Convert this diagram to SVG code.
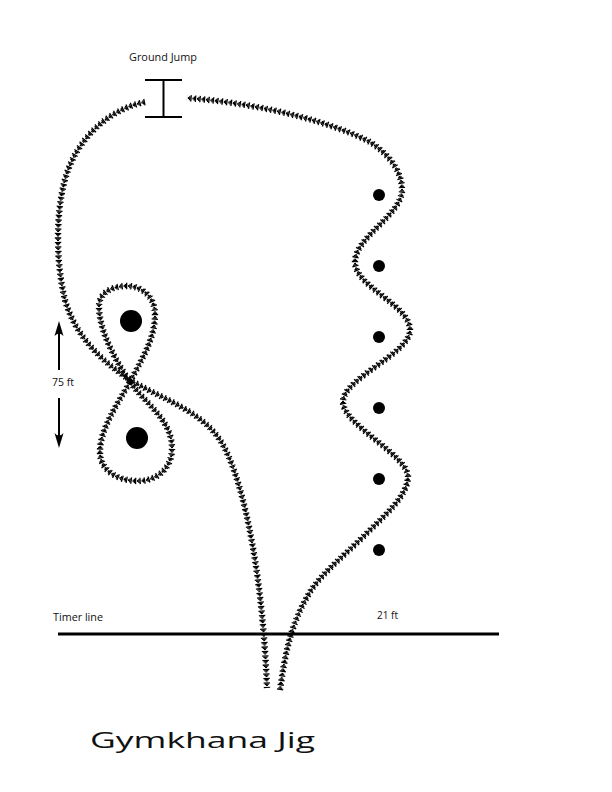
<svg xmlns="http://www.w3.org/2000/svg" xmlns:xlink="http://www.w3.org/1999/xlink" width="612" height="792" viewBox="0 0 612 792">
<style>
text{font-family:"Open Sans","Liberation Sans",Arial,sans-serif;fill:#111}
.lbl{font-size:10.5px}
.title{font-size:22px}
.bar{stroke:#000;stroke-width:2;fill:none}
.chain1,.chain2,.chain3{fill:none;stroke:#000;stroke-dasharray:1.3 3.2}
.chain1{stroke-width:6.4}
.chain2{stroke-width:4.2;stroke-dashoffset:-1.2}
.chain3{stroke-width:2;stroke-dashoffset:-2.4}
.dot{fill:#000}
</style>
<defs>
<path id="routeA" d="M280,690 C285,655 290,625 310,592 C322,573 345,555 365,535 C385,515 407,497 408,477 C408,455 343,425 343,402 C343,378 410,354 410,330 C410,305 355,287 355,262 C355,237 402,215 402,190 C402,172 390,155 370,142 C340,126 270,104 187,98"/>
<path id="routeB" d="M145,102 C115,108 85,130 70,165 C55,200 55,260 65,300 C75,335 100,360 130,380 C160,398 200,410 220,440 C240,470 262,560 267,688"/>
<path id="routeC" d="M130,382 C140,362 155,340 155,315 C155,295 140,286 127,286 C112,286 98,293 99,308 C100,330 112,355 130,382 C145,403 172,420 172,448 C172,470 155,481 138,481 C120,481 100,472 100,452 C100,430 115,408 130,382"/>
</defs>
<rect width="612" height="792" fill="#fff"/>

<g id="connectors">
<use xlink:href="#routeA" class="chain1"/>
<use xlink:href="#routeA" class="chain2"/>
<use xlink:href="#routeA" class="chain3"/>
<use xlink:href="#routeB" class="chain1"/>
<use xlink:href="#routeB" class="chain2"/>
<use xlink:href="#routeB" class="chain3"/>
<use xlink:href="#routeC" class="chain1"/>
<use xlink:href="#routeC" class="chain2"/>
<use xlink:href="#routeC" class="chain3"/>
</g>

<g id="ground-jump">
<text class="lbl" x="129" y="61" textLength="68" lengthAdjust="spacingAndGlyphs">Ground Jump</text>
<line class="bar" x1="145" y1="80" x2="182" y2="80"/>
<line class="bar" x1="163.5" y1="80" x2="163.5" y2="117"/>
<line class="bar" x1="145" y1="117" x2="182" y2="117"/>
</g>

<g id="poles">
<circle class="dot" cx="379" cy="195" r="6"/>
<circle class="dot" cx="379" cy="266" r="6"/>
<circle class="dot" cx="379" cy="337" r="6"/>
<circle class="dot" cx="379" cy="408" r="6"/>
<circle class="dot" cx="379" cy="479" r="6"/>
<circle class="dot" cx="379" cy="550" r="6"/>
</g>

<g id="barrels">
<circle class="dot" cx="131" cy="321" r="11"/>
<circle class="dot" cx="137" cy="438" r="11"/>
</g>

<g id="distance-75ft">
<line class="bar" x1="59" y1="330" x2="59" y2="370"/>
<path d="M59,321 L63.5,336 Q59,331 54.5,336 Z" fill="#000"/>
<text class="lbl" x="52" y="386" textLength="22" lengthAdjust="spacingAndGlyphs">75 ft</text>
<line class="bar" x1="59" y1="398" x2="59" y2="439"/>
<path d="M59,448 L63.5,433 Q59,438 54.5,433 Z" fill="#000"/>
</g>

<g id="timer-line">
<line x1="58" y1="634" x2="499" y2="634" stroke="#000" stroke-width="3"/>
<text class="lbl" x="53" y="621" textLength="50" lengthAdjust="spacingAndGlyphs">Timer line</text>
</g>

<g id="distance-21ft">
<text class="lbl" x="377" y="619" textLength="21" lengthAdjust="spacingAndGlyphs">21 ft</text>
</g>

<g id="title">
<text class="title" x="90" y="748" textLength="225" lengthAdjust="spacingAndGlyphs">Gymkhana Jig</text>
</g>
</svg>
